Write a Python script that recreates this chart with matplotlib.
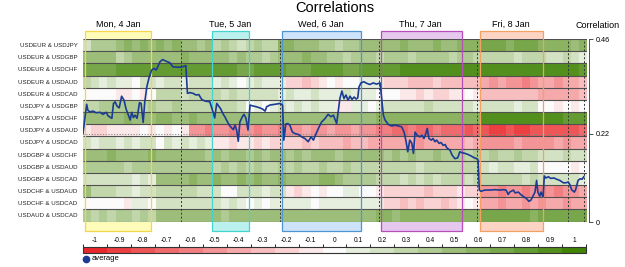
import matplotlib.pyplot as plt
import matplotlib.cm as cm
import numpy as np
from matplotlib.colors import ListedColormap, BoundaryNorm
from matplotlib.patches import Rectangle
from matplotlib.lines import Line2D

plt.rcParams['font.family'] = ['Liberation Sans', 'DejaVu Sans']

# currency pairs (rows, top to bottom)
pairs = ['USDEUR & USDJPY', 'USDEUR & USDGBP', 'USDEUR & USDCHF', 'USDEUR & USDAUD',
         'USDEUR & USDCAD', 'USDJPY & USDGBP', 'USDJPY & USDCHF', 'USDJPY & USDAUD',
         'USDJPY & USDCAD', 'USDGBP & USDCHF', 'USDGBP & USDAUD', 'USDGBP & USDCAD',
         'USDCHF & USDAUD', 'USDCHF & USDCAD', 'USDAUD & USDCAD']

# column edges in hours (2h buckets)
col_edges = np.arange(0, 126, 2)

# correlation per 2h bucket, in tenths
corr = [
    [2, 4, 4, 4, 5, 6, 5, 6, 5, 6, 5, 6, 5, 5, 4, 5, 3, 4, 3, 2, 3, 4, 3, 3, 6, 6, 5, 5, 5, 4,
     4, 3, 4, 4, 5, 5, 5, 5, 5, 6, 5, 5, 5, 6, 5, 5, 6, 6, 6, 7, 7, 7, 6, 7, 7, 7, 6, 6, 6, 6, 5, 6],
    [5, 5, 5, 5, 3, 4, 5, 5, 5, 5, 5, 5, 6, 5, 5, 5, 5, 5, 4, 5, 4, 4, 3, 4, 5, 5, 5, 6, 5, 5,
     4, 4, 3, 4, 4, 4, 3, 4, 4, 4, 3, 4, 4, 4, 4, 3, 4, 4, 3, 3, 3, 3, 3, 2, 3, 3, 3, 2, 2, 3, 2, 1],
    [7, 7, 7, 7, 8, 8, 8, 8, 8, 8, 8, 8, 8, 8, 8, 8, 8, 8, 8, 7, 7, 8, 8, 8, 8, 7, 7, 7, 8, 8,
     8, 8, 7, 7, 8, 8, 8, 8, 8, 9, 9, 9, 9, 9, 9, 9, 9, 9, 9, 9, 9, 9, 9, 9, 9, 9, 9, 9, 9, 9, 9, 8],
    [3, 2, 1, 2, 1, 1, 0, 2, 2, 1, 2, 2, 1, 2, 2, 2, 1, 2, 1, 0, 1, 2, 1, 1, 1, -2, -2, -3, -2, -1,
     0, -1, 0, 0, 1, 1, 1, -2, -2, -2, -3, -3, -3, -2, -3, -3, -3, -3, -3, -4, -5, -4, -5, -5, -6, -5, -4, -4, -5, -4, -4, -3],
    [0, 0, 0, 0, -1, -1, 0, -1, 0, 3, 3, 3, 2, 3, 3, 3, 3, 2, 3, 2, 2, 2, 2, 2, 1, 2, 1, 1, 2, 1,
     1, 1, 2, 1, 1, 1, 0, 0, 0, -1, -1, -2, -1, -2, -2, -1, -1, 0, -1, -3, -3, -3, -3, -3, -3, -3, -4, -4, -4, -4, -4, -3],
    [3, 3, 4, 4, 4, 4, 4, 3, 4, 3, 3, 4, 3, 3, 3, 3, 3, 3, 3, 2, 0, 1, 0, 1, 2, 1, 2, 1, 2, 1,
     1, -1, -1, 1, 1, 0, 1, 2, 2, 2, 2, 2, 3, 2, 2, 2, 2, 2, 1, 2, 2, 2, 2, 1, 2, 2, 0, 0, -1, 0, -1, 0],
    [5, 5, 5, 5, 5, 6, 5, 5, 5, 6, 6, 5, 5, 6, 5, 5, 5, 5, 5, 5, 5, 5, 5, 5, 5, 5, 5, 5, 5, 5,
     5, 5, 5, 5, 5, 5, 6, 6, 6, 6, 6, 6, 6, 6, 6, 6, 6, 6, 6, 9, 9, 9, 9, 9, 9, 9, 9, 9, 9, 8, 8, 8],
    [-1, -2, -2, -1, -1, -1, -1, 0, -1, 0, -1, 0, -1, -5, -5, -6, -5, -5, -6, -5, -5, -6, -5, -5, -6, -5, -5, -4, -5, -5,
     -4, -5, -5, -4, -5, -5, -6, -6, -7, -7, -6, -7, -7, -6, -7, -7, -7, -8, -7, -8, -9, -9, -8, -9, -9, -8, -8, -8, -8, -8, -8, -7],
    [2, 1, 2, 2, 1, 2, 1, 2, 2, 0, 2, 1, 2, 1, 2, 1, -1, -1, -2, -1, -1, -2, -1, -2, -2, -2, -2, -3, -2, -3,
     -3, -3, -4, -3, -3, -4, -4, -4, -4, -4, -4, -5, -4, -4, -4, -4, -4, -3, -4, -5, -5, -5, -5, -4, -5, -5, -5, -5, -4, -5, -4, -4],
    [5, 5, 5, 6, 5, 5, 5, 5, 6, 5, 5, 5, 5, 5, 5, 4, 5, 4, 5, 5, 4, 5, 4, 5, 5, 4, 5, 4, 5, 5,
     5, 4, 5, 5, 5, 5, 5, 4, 5, 4, 5, 4, 4, 5, 4, 4, 4, 3, 4, 3, 4, 3, 3, 4, 3, 3, 2, 2, 2, 3, 2, 2],
    [4, 4, 4, 4, 4, 3, 4, 4, 4, 4, 4, 4, 4, 4, 4, 4, 3, 4, 3, 4, 3, 4, 3, 3, 4, 3, 4, 3, 3, 4,
     3, 3, 4, 3, 3, 3, 3, 3, 3, 3, 3, 2, 3, 3, 3, 3, 3, 3, 3, 2, 1, 2, 2, 1, 1, 2, 0, 0, 0, 0, -1, 0],
    [2, 2, 2, 2, 2, 2, 1, 2, 1, 5, 5, 5, 5, 6, 5, 5, 6, 5, 5, 6, 5, 6, 5, 5, 6, 5, 5, 5, 5, 6,
     6, 5, 4, 4, 4, 4, 3, 3, 3, 2, 3, 2, 3, 2, 3, 3, 3, 2, 3, 3, 3, 3, 3, 3, 2, 3, 2, 2, 2, 2, 2, 1],
    [5, 3, 3, 3, 2, 2, 1, 2, 2, 3, 3, 3, 3, 3, 2, 2, 2, 0, 0, 2, 2, 2, 1, 2, 2, -1, -2, -1, 0, -1,
     0, 0, 1, 1, 0, 0, -1, -2, -2, -2, -2, -2, -3, -2, -2, -2, -1, -2, -2, -5, -5, -6, -5, -5, -6, -5, -6, -5, -6, -5, -5, -4],
    [0, 0, 0, 0, 0, -1, 1, 1, 0, 2, 2, 2, 2, 2, 2, 2, 2, 1, 2, 1, 0, 1, 0, 1, 1, 1, 1, 1, 0, 1,
     1, 1, 1, 1, 1, 1, 1, -2, -2, -3, -2, -3, -2, -2, -3, -2, -1, 0, -1, -4, -4, -5, -4, -4, -5, -4, -5, -4, -4, -5, -4, -4],
    [4, 3, 4, 3, 4, 4, 3, 4, 3, 5, 5, 5, 5, 5, 5, 5, 5, 4, 5, 5, 5, 5, 5, 5, 5, 5, 5, 5, 5, 5,
     5, 5, 5, 5, 5, 5, 6, 6, 5, 6, 6, 6, 6, 6, 6, 6, 6, 6, 6, 7, 7, 7, 7, 7, 7, 6, 7, 7, 7, 7, 7, 7],
]

# average correlation line
line_hours = [0, 0.9, 1.2, 1.7, 2.5, 3.2, 4.2, 4.9, 5.7, 6.2,
              7.1, 7.5, 7.9, 8.4, 8.9, 9.5, 10.1, 10.6, 11.1, 11.6,
              12.0, 12.4, 12.8, 13.3, 13.9, 14.3, 14.8, 15.2, 15.7, 16.3,
              16.9, 17.5, 18.0, 18.4, 18.9, 19.6, 20.4, 21.4, 22.1, 23.1,
              23.9, 24.5, 25.3, 25.7, 26.3, 27.1, 27.8, 28.5, 29.2, 30.0,
              30.7, 31.2, 32.1, 32.4, 32.9, 33.5, 33.9, 34.4, 34.9, 35.4,
              36.0, 36.6, 37.0, 37.4, 37.8, 38.2, 38.6, 39.2, 39.6, 40.1,
              40.6, 41.1, 41.7, 42.6, 43.5, 44.2, 44.8, 45.2, 46.0, 47.2,
              48.5, 49.1, 49.4, 49.9, 50.4, 50.9, 51.5, 52.2, 53.0, 53.8,
              54.6, 55.4, 56.1, 56.7, 57.3, 58.1, 58.7, 59.5, 60.3, 61.0,
              61.6, 62.4, 63.2, 63.7, 64.2, 64.7, 65.2, 65.7, 66.2, 66.7,
              67.2, 67.6, 67.9, 68.4, 69.1, 69.8, 70.6, 71.4, 72.2, 73.1,
              73.9, 74.3, 75.1, 75.9, 76.8, 77.6, 78.4, 79.0, 79.5, 79.9,
              80.4, 80.9, 81.3, 81.7, 82.2, 82.9, 83.4, 83.9, 84.2, 84.7,
              85.1, 85.7, 86.1, 86.6, 87.0, 87.6, 88.1, 88.6, 89.1, 89.5,
              90.3, 90.8, 91.5, 92.2, 92.7, 93.2, 94.0, 94.8, 95.6, 96.3,
              96.9, 97.2, 97.5, 97.9, 98.9, 100.1, 101.4, 102.6, 103.4, 104.1,
              104.6, 105.0, 105.9, 106.3, 107.1, 107.7, 108.5, 109.1, 109.7, 110.2,
              110.8, 111.2, 111.6, 111.9, 112.4, 112.7, 113.0, 113.2, 113.5, 113.9,
              114.5, 115.1, 115.9, 116.5, 117.3, 118.2, 118.8, 119.4, 119.8, 120.2,
              120.9, 121.2, 121.8, 122.3, 122.8, 123.2]
line_avg = [0.220, 0.293, 0.278, 0.274, 0.276, 0.272, 0.273, 0.268, 0.273, 0.264,
            0.258, 0.295, 0.299, 0.288, 0.284, 0.313, 0.303, 0.281, 0.268, 0.254,
            0.273, 0.260, 0.266, 0.258, 0.297, 0.295, 0.248, 0.299, 0.336, 0.361,
            0.378, 0.382, 0.378, 0.386, 0.398, 0.404, 0.400, 0.396, 0.386, 0.385,
            0.385, 0.386, 0.389, 0.320, 0.322, 0.320, 0.316, 0.317, 0.305, 0.301,
            0.300, 0.299, 0.270, 0.259, 0.295, 0.287, 0.281, 0.270, 0.262, 0.252,
            0.241, 0.234, 0.230, 0.241, 0.229, 0.201, 0.249, 0.262, 0.268, 0.258,
            0.229, 0.291, 0.289, 0.287, 0.284, 0.281, 0.276, 0.287, 0.291, 0.293,
            0.295, 0.291, 0.204, 0.244, 0.245, 0.241, 0.224, 0.220, 0.218, 0.212,
            0.208, 0.200, 0.212, 0.204, 0.219, 0.237, 0.249, 0.257, 0.268, 0.262,
            0.266, 0.245, 0.307, 0.326, 0.307, 0.316, 0.303, 0.313, 0.305, 0.311,
            0.306, 0.309, 0.336, 0.346, 0.349, 0.345, 0.342, 0.346, 0.343, 0.346,
            0.266, 0.254, 0.243, 0.239, 0.241, 0.239, 0.237, 0.224, 0.200, 0.175,
            0.204, 0.196, 0.171, 0.224, 0.216, 0.212, 0.216, 0.208, 0.216, 0.233,
            0.208, 0.204, 0.208, 0.200, 0.204, 0.196, 0.198, 0.191, 0.193, 0.185,
            0.179, 0.167, 0.158, 0.160, 0.175, 0.173, 0.171, 0.168, 0.164, 0.160,
            0.158, 0.154, 0.080, 0.077, 0.080, 0.080, 0.081, 0.080, 0.081, 0.080,
            0.069, 0.075, 0.080, 0.073, 0.075, 0.069, 0.063, 0.059, 0.052, 0.055,
            0.067, 0.075, 0.104, 0.075, 0.065, 0.075, 0.067, 0.063, 0.115, 0.110,
            0.113, 0.109, 0.110, 0.107, 0.104, 0.098, 0.098, 0.100, 0.093, 0.081,
            0.075, 0.081, 0.104, 0.108, 0.107, 0.113]

days = ['Mon, 4 Jan', 'Tue, 5 Jan', 'Wed, 6 Jan', 'Thu, 7 Jan', 'Fri, 8 Jan']
day_start = [0.5, 31.7, 49.0, 73.3, 97.7]
day_end = [16.7, 40.8, 68.4, 93.2, 113.2]
day_label_x = [8.6, 36.2, 58.5, 83.1, 105.3]
day_fill = ['#fffbb8', '#baf0ee', '#cde3fa', '#e6c8ee', '#fdd3c4']
day_edge = ['#f3d64a', '#45d3d0', '#4f95d2', '#b74db8', '#f2a063']
midnights = [24.1, 48.5, 72.8, 96.9, 119.4, 123.3]

levels = np.round(np.arange(-1, 1.001, 0.1), 1)
level_colors = ['#e8282c', '#eb3f42', '#ed5557', '#ef6a6c', '#f17f81', '#f39496', '#f5a9ab',
                '#f7bec0', '#f9d3d4', '#fbe8e9', '#fbfbfb', '#e6eede', '#d4e2c4', '#c2d6ab',
                '#afca92', '#9dbe7a', '#8bb362', '#78a74b', '#659b33', '#538f1c', '#408305']

cmap = ListedColormap(level_colors)
norm = BoundaryNorm(np.linspace(-1.05, 1.05, 22), cmap.N)
blue = '#1b3c94'

W, H = 625, 267
fig = plt.figure(figsize=(W / 100, H / 100), dpi=100)

# heatmap
ax = fig.add_axes([83 / W, 1 - 221.5 / H, 504 / W, 182.5 / H])
ax.set_facecolor('none')
ax.pcolormesh(col_edges, np.arange(len(pairs) + 1), np.array(corr) / 10,
              cmap=cmap, norm=norm, zorder=1, antialiased=False)
ax.set_xlim(0, 124)
ax.set_ylim(len(pairs), 0)
for s in ax.spines.values():
    s.set_visible(False)
ax.set_xticks([])
ax.set_yticks(np.arange(len(pairs)) + 0.5)
ax.set_yticklabels(pairs, fontsize=4.4, color='#222222')
ax.tick_params(axis='y', length=0, pad=4)
ax.hlines(np.arange(len(pairs) + 1), 0, 124, color='#505050', lw=0.8, zorder=2)
for m in midnights:
    ax.axvline(m, color='#333333', lw=0.7, ls=(0, (2, 2)), zorder=3)

# trading day boxes
for d, s, e, lx, fc, ec in zip(days, day_start, day_end, day_label_x, day_fill, day_edge):
    ax.add_patch(Rectangle((s, -0.66), e - s, 16.44, facecolor=fc, edgecolor='none',
                           zorder=0, clip_on=False))
    ax.add_patch(Rectangle((s, -0.66), e - s, 16.44, fill=False, edgecolor=ec, lw=0.9,
                           zorder=4, clip_on=False))
    ax.text(lx, -1.24, d, ha='center', va='center', fontsize=6.5)

fig.text(335 / W, 1 - 7.5 / H, 'Correlations', ha='center', va='center', fontsize=10.5)

# average line on the right axis
ax2 = fig.add_axes([83 / W, 1 - 222.3 / H, 504 / W, 183.3 / H])
ax2.patch.set_visible(False)
ax2.plot(line_hours, line_avg, color=blue, lw=1.2, zorder=5)
ax2.axhline(0.22, color='#8a8a8a', lw=0.8, ls=(0, (1, 1.5)), zorder=4)
ax2.set_xlim(0, 124)
ax2.set_ylim(0, 0.455)
for side in ['left', 'top', 'bottom']:
    ax2.spines[side].set_visible(False)
ax2.spines['right'].set_position(('outward', 1.5))
ax2.spines['right'].set_color('#333333')
ax2.spines['right'].set_linewidth(0.6)
ax2.yaxis.tick_right()
ax2.set_xticks([])
ax2.set_yticks([0, 0.22, 0.455])
ax2.set_yticklabels(['0', '0.22', '0.46'])
ax2.tick_params(axis='y', length=3, width=0.6, color='#333333', labelsize=5.2, pad=2)
fig.text(598 / W, 1 - 25 / H, 'Correlation', ha='center', va='center', fontsize=6.5)

# colour scale
cax = fig.add_axes([83 / W, 1 - 253.3 / H, 503 / W, 6.6 / H])
cb = fig.colorbar(cm.ScalarMappable(norm=norm, cmap=cmap), cax=cax,
                  orientation='horizontal', ticks=levels)
cax.xaxis.set_ticks_position('top')
cb.set_ticklabels(['%g' % (v + 0.0) for v in levels])
cax.tick_params(length=0, labelsize=4.8, pad=2)
cb.outline.set_edgecolor('#333333')
cb.outline.set_linewidth(0.8)

# legend
fig.add_artist(Line2D([86 / W], [1 - 259 / H], marker='o', ms=4.5, color=blue,
                      transform=fig.transFigure))
fig.text(92 / W, 1 - 259 / H, 'average', ha='left', va='center', fontsize=5.5)

fig.savefig('out.png', dpi=100)
